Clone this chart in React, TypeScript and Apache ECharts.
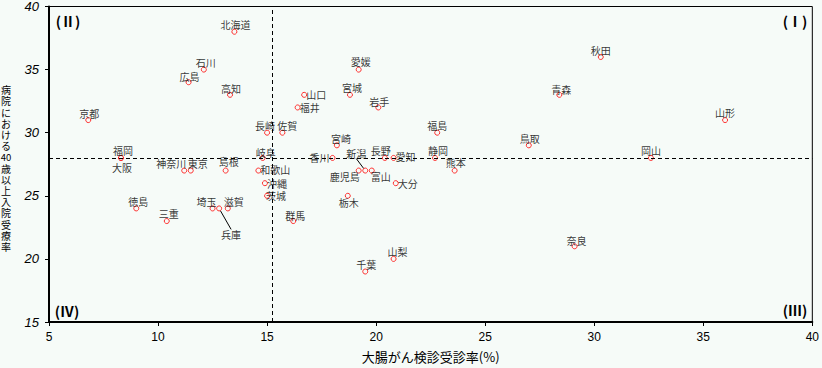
import React, { useEffect, useRef } from "react";
import * as echarts from "echarts";

const prefectures = [
  "北海道", "青森", "岩手", "宮城", "秋田", "山形", "福島", "茨城", "栃木", "群馬",
  "埼玉", "千葉", "東京", "神奈川", "新潟", "富山", "石川", "福井", "山梨", "長野",
  "岐阜", "静岡", "愛知", "三重", "滋賀", "京都", "大阪", "兵庫", "奈良", "和歌山",
  "鳥取", "島根", "岡山", "広島", "山口", "徳島", "香川", "愛媛", "高知", "福岡",
  "佐賀", "長崎", "熊本", "大分", "宮崎", "鹿児島", "沖縄",
];
// x: 大腸がん検診受診率(%)
const screeningRate = [
  13.5, 28.4, 20.1, 18.8, 30.3, 36.0, 22.8, 15.0, 18.7, 16.2,
  12.5, 19.5, 11.5, 11.2, 19.5, 19.8, 12.1, 16.4, 20.8, 20.4,
  14.8, 22.7, 20.8, 10.4, 13.2, 6.8, 8.3, 12.8, 29.1, 14.6,
  27.0, 13.1, 32.6, 11.4, 16.7, 9.0, 18.0, 19.2, 13.3, 8.3,
  15.7, 15.0, 23.6, 20.9, 18.2, 19.2, 14.9,
];
// y: 病院における40歳以上入院受療率
const inpatientRate = [
  38, 33, 32, 33, 36, 31, 30, 25, 25, 23,
  24, 19, 27, 27, 27, 27, 35, 32, 20, 28,
  28, 28, 28, 23, 24, 31, 28, 24, 21, 27,
  29, 27, 28, 34, 33, 24, 28, 35, 33, 28,
  30, 30, 27, 26, 29, 27, 26,
];
const xAverage = 15.25;
const yAverage = 28;
const xTicks = { min: 5, max: 40, interval: 5 };
const yTicks = { min: 15, max: 40, interval: 5 };
const quadrantLabels = ["(Ⅰ)", "(Ⅱ)", "(Ⅲ)", "(Ⅳ)"];
const xAxisTitle = "大腸がん検診受診率(%)";
const yAxisTitle = ["病", "院", "に", "お", "け", "る", "40", "歳", "以", "上", "入", "院", "受", "療", "率"];

// label placement (px offset of label centre from point centre)
const labelOffsets: Record<string, [number, number]> = {
  北海道: [1, -7], 青森: [2, -5], 岩手: [1, -6], 宮城: [2, -7], 秋田: [0, -6],
  山形: [0, -8], 福島: [0, -7], 茨城: [9, 0], 栃木: [1, 7], 群馬: [2, -6],
  埼玉: [-6, -7], 千葉: [1, -7], 東京: [7, -7], 神奈川: [-13, -7], 新潟: [-9, -17],
  富山: [9, 6], 石川: [2, -7], 福井: [12, 0], 山梨: [4, -7], 長野: [-4, -7],
  岐阜: [3, -5], 静岡: [3, -7], 愛知: [12, -1], 三重: [2, -8], 滋賀: [6, -7],
  京都: [1, -7], 大阪: [1, 10], 兵庫: [12, 26], 奈良: [2, -6], 和歌山: [17, -1],
  鳥取: [1, -7], 島根: [3, -9], 岡山: [0, -7], 広島: [1, -6], 山口: [12, 0],
  徳島: [2, -7], 香川: [-13, 0], 愛媛: [2, -8], 高知: [1, -6], 福岡: [2, -7],
  佐賀: [5, -7], 長崎: [-2, -7], 熊本: [1, -8], 大分: [12, 0], 宮崎: [4, -7],
  鹿児島: [-14, 6], 沖縄: [12, 0],
};
const leaderLined = ["新潟", "兵庫"];

const BG = "#f6fbf8";
const JP = "'Noto Sans CJK JP', sans-serif";

export default function App() {
  const ref = useRef<HTMLDivElement>(null);
  useEffect(() => {
    if (!ref.current) return;
    const chart = echarts.init(ref.current, null, { renderer: "svg" });
    const data = prefectures.map((name, i) => {
      const item: any = { name, value: [screeningRate[i], inpatientRate[i]] };
      if (leaderLined.includes(name)) {
        item.labelLine = { show: true, lineStyle: { color: "#000", width: 1 } };
      }
      return item;
    });
    const qStyle = { fontSize: 14, fontWeight: "bold", fontFamily: JP, fill: "#000", align: "center", verticalAlign: "middle" };
    const titleRow = 11.2;
    const titleTop = 168 - (yAxisTitle.length * titleRow) / 2 + titleRow / 2;
    chart.setOption({
      animation: false,
      backgroundColor: BG,
      grid: { left: 49, right: 6, top: 5, bottom: 40, show: true, borderColor: "#000", borderWidth: 1, backgroundColor: BG },
      xAxis: {
        type: "value",
        min: xTicks.min, max: xTicks.max, interval: xTicks.interval,
        name: xAxisTitle, nameLocation: "middle", nameGap: 28,
        nameTextStyle: { fontSize: 13, fontFamily: JP, color: "#000" },
        axisLine: { lineStyle: { color: "#000", width: 2 } },
        axisTick: { show: true, length: 4, lineStyle: { color: "#000" } },
        axisLabel: { fontSize: 12, color: "#000", margin: 9, fontFamily: "'Liberation Sans', sans-serif" },
        splitLine: { show: false },
      },
      yAxis: {
        type: "value",
        min: yTicks.min, max: yTicks.max, interval: yTicks.interval,
        axisLine: { show: true, lineStyle: { color: "#000", width: 2 } },
        axisTick: { show: true, length: 4, lineStyle: { color: "#000" } },
        axisLabel: { fontSize: 13, fontStyle: "italic", color: "#000", margin: 10, fontFamily: "'Liberation Sans', sans-serif" },
        splitLine: { show: false },
      },
      graphic: [
        ...yAxisTitle.map((ch, i) => ({
          type: "text", x: 6, y: titleTop + i * titleRow, silent: true,
          style: { text: ch, fontSize: ch.length > 1 ? 9.5 : 10, fontFamily: JP, fill: "#000", align: "center", verticalAlign: "middle" },
        })),
        { type: "text", x: 795, y: 21, style: { text: quadrantLabels[0], ...qStyle } },
        { type: "text", x: 68, y: 21, style: { text: quadrantLabels[1], ...qStyle } },
        { type: "text", x: 795, y: 310, style: { text: quadrantLabels[2], ...qStyle } },
        { type: "text", x: 67, y: 311, style: { text: quadrantLabels[3], ...qStyle } },
      ],
      series: [
        {
          type: "scatter",
          data,
          symbol: "circle",
          symbolSize: 5,
          itemStyle: { color: BG, borderColor: "#ff0000", borderWidth: 1 },
          label: {
            show: true, position: "inside", formatter: "{b}",
            fontSize: 10, fontFamily: JP, color: "#000",
            textBorderWidth: 0, textBorderColor: "transparent",
          },
          emphasis: { disabled: true },
          labelLayout: (params: any) => {
            const off = labelOffsets[prefectures[params.dataIndex]] || [0, -7];
            return { dx: off[0], dy: off[1] };
          },
          labelLine: { show: false },
          markLine: {
            silent: true,
            symbol: "none",
            label: { show: false },
            lineStyle: { color: "#000", width: 1, type: [4, 3] },
            data: [{ xAxis: xAverage }, { yAxis: yAverage }],
          },
          z: 3,
        },
      ],
    });
    return () => chart.dispose();
  }, []);
  return <div ref={ref} style={{ position: "fixed", left: 0, top: 0, width: 822, height: 368 }} />;
}
